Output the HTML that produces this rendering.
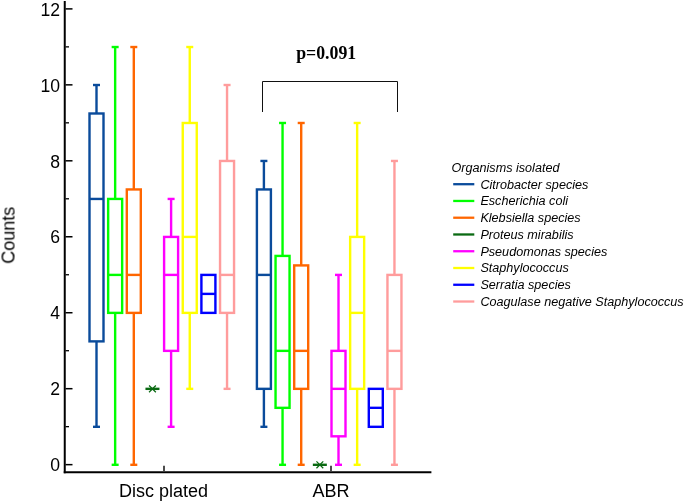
<!DOCTYPE html>
<html><head><meta charset="utf-8"><title>Chart</title>
<style>
html,body{margin:0;padding:0;background:#fff;}
body{width:685px;height:501px;overflow:hidden;font-family:"Liberation Sans",sans-serif;}
svg{display:block;}
</style></head><body>
<svg width="685" height="501" viewBox="0 0 685 501">
<rect width="685" height="501" fill="#fff"/>
<g stroke="#000" fill="none">
<line x1="64.75" y1="1" x2="64.75" y2="473.25" stroke-width="2"/>
<line x1="63.75" y1="472.2" x2="431.4" y2="472.2" stroke-width="2.1"/>
<line x1="65.5" y1="464.65000000000003" x2="72.5" y2="464.65000000000003" stroke-width="1.5"/>
<line x1="65.5" y1="426.67" x2="69" y2="426.67" stroke-width="1.3"/>
<line x1="65.5" y1="388.69000000000005" x2="72.5" y2="388.69000000000005" stroke-width="1.5"/>
<line x1="65.5" y1="350.71000000000004" x2="69" y2="350.71000000000004" stroke-width="1.3"/>
<line x1="65.5" y1="312.73" x2="72.5" y2="312.73" stroke-width="1.5"/>
<line x1="65.5" y1="274.75000000000006" x2="69" y2="274.75000000000006" stroke-width="1.3"/>
<line x1="65.5" y1="236.77" x2="72.5" y2="236.77" stroke-width="1.5"/>
<line x1="65.5" y1="198.79000000000005" x2="69" y2="198.79000000000005" stroke-width="1.3"/>
<line x1="65.5" y1="160.81000000000003" x2="72.5" y2="160.81000000000003" stroke-width="1.5"/>
<line x1="65.5" y1="122.83000000000001" x2="69" y2="122.83000000000001" stroke-width="1.3"/>
<line x1="65.5" y1="84.85000000000005" x2="72.5" y2="84.85000000000005" stroke-width="1.5"/>
<line x1="65.5" y1="46.87000000000004" x2="69" y2="46.87000000000004" stroke-width="1.3"/>
<line x1="65.5" y1="8.89000000000002" x2="72.5" y2="8.89000000000002" stroke-width="1.5"/>
<line x1="164" y1="465.7" x2="164" y2="471" stroke-width="1.4"/>
<line x1="331" y1="465.7" x2="331" y2="471" stroke-width="1.4"/>
</g>
<g font-family="Liberation Sans, sans-serif" font-size="17.6" fill="#000" text-anchor="end" style="filter:grayscale(1)">
<text x="60" y="471.35">0</text>
<text x="60" y="395.39">2</text>
<text x="60" y="319.43">4</text>
<text x="60" y="243.47">6</text>
<text x="60" y="167.51">8</text>
<text x="60" y="91.55">10</text>
<text x="60" y="16.19">12</text>
</g>
<g font-family="Liberation Sans, sans-serif" font-size="18" fill="#000" text-anchor="middle" style="filter:grayscale(1)">
<text x="163.6" y="496.8">Disc plated</text>
<text x="331" y="496.8">ABR</text>
<text transform="translate(14.5,235.3) rotate(-90)" x="0" y="0">Counts</text>
</g>
<g stroke="#0a4b9b" stroke-width="2.4" fill="none"><line x1="96.50" y1="85.00" x2="96.50" y2="113.49"/><line x1="93.00" y1="85.00" x2="100.00" y2="85.00"/><line x1="96.50" y1="426.82" x2="96.50" y2="341.37"/><line x1="93.00" y1="426.82" x2="100.00" y2="426.82"/><rect x="89.50" y="113.49" width="14.00" height="227.88"/><line x1="89.50" y1="198.94" x2="103.50" y2="198.94"/></g>
<g stroke="#00ff00" stroke-width="2.4" fill="none"><line x1="115.15" y1="47.02" x2="115.15" y2="198.94"/><line x1="111.65" y1="47.02" x2="118.65" y2="47.02"/><line x1="115.15" y1="464.80" x2="115.15" y2="312.88"/><line x1="111.65" y1="464.80" x2="118.65" y2="464.80"/><rect x="108.15" y="198.94" width="14.00" height="113.94"/><line x1="108.15" y1="274.90" x2="122.15" y2="274.90"/></g>
<g stroke="#ff6600" stroke-width="2.4" fill="none"><line x1="133.80" y1="47.02" x2="133.80" y2="189.45"/><line x1="130.30" y1="47.02" x2="137.30" y2="47.02"/><line x1="133.80" y1="464.80" x2="133.80" y2="312.88"/><line x1="130.30" y1="464.80" x2="137.30" y2="464.80"/><rect x="126.80" y="189.45" width="14.00" height="123.43"/><line x1="126.80" y1="274.90" x2="140.80" y2="274.90"/></g>
<line x1="145.45" y1="388.84" x2="159.45" y2="388.84" stroke="#0a6a12" stroke-width="2.4"/>
<path d="M149.05 385.44L155.85 392.24M149.05 392.24L155.85 385.44" stroke="#0a6a12" stroke-width="1.25" fill="none"/>
<g stroke="#ff00ff" stroke-width="2.4" fill="none"><line x1="171.10" y1="198.94" x2="171.10" y2="236.92"/><line x1="167.60" y1="198.94" x2="174.60" y2="198.94"/><line x1="171.10" y1="426.82" x2="171.10" y2="350.86"/><line x1="167.60" y1="426.82" x2="174.60" y2="426.82"/><rect x="164.10" y="236.92" width="14.00" height="113.94"/><line x1="164.10" y1="274.90" x2="178.10" y2="274.90"/></g>
<g stroke="#ffff00" stroke-width="2.4" fill="none"><line x1="189.75" y1="47.02" x2="189.75" y2="122.98"/><line x1="186.25" y1="47.02" x2="193.25" y2="47.02"/><line x1="189.75" y1="388.84" x2="189.75" y2="312.88"/><line x1="186.25" y1="388.84" x2="193.25" y2="388.84"/><rect x="182.75" y="122.98" width="14.00" height="189.90"/><line x1="182.75" y1="236.92" x2="196.75" y2="236.92"/></g>
<g stroke="#0000ff" stroke-width="2.4" fill="none"><rect x="201.40" y="274.90" width="14.00" height="37.98"/><line x1="201.40" y1="293.89" x2="215.40" y2="293.89"/></g>
<g stroke="#ff9c9c" stroke-width="2.4" fill="none"><line x1="227.05" y1="85.00" x2="227.05" y2="160.96"/><line x1="223.55" y1="85.00" x2="230.55" y2="85.00"/><line x1="227.05" y1="388.84" x2="227.05" y2="312.88"/><line x1="223.55" y1="388.84" x2="230.55" y2="388.84"/><rect x="220.05" y="160.96" width="14.00" height="151.92"/><line x1="220.05" y1="274.90" x2="234.05" y2="274.90"/></g>
<g stroke="#0a4b9b" stroke-width="2.4" fill="none"><line x1="263.90" y1="160.96" x2="263.90" y2="189.45"/><line x1="260.40" y1="160.96" x2="267.40" y2="160.96"/><line x1="263.90" y1="426.82" x2="263.90" y2="388.84"/><line x1="260.40" y1="426.82" x2="267.40" y2="426.82"/><rect x="256.90" y="189.45" width="14.00" height="199.39"/><line x1="256.90" y1="274.90" x2="270.90" y2="274.90"/></g>
<g stroke="#00ff00" stroke-width="2.4" fill="none"><line x1="282.55" y1="122.98" x2="282.55" y2="255.91"/><line x1="279.05" y1="122.98" x2="286.05" y2="122.98"/><line x1="282.55" y1="464.80" x2="282.55" y2="407.83"/><line x1="279.05" y1="464.80" x2="286.05" y2="464.80"/><rect x="275.55" y="255.91" width="14.00" height="151.92"/><line x1="275.55" y1="350.86" x2="289.55" y2="350.86"/></g>
<g stroke="#ff6600" stroke-width="2.4" fill="none"><line x1="301.20" y1="122.98" x2="301.20" y2="265.41"/><line x1="297.70" y1="122.98" x2="304.70" y2="122.98"/><line x1="301.20" y1="464.80" x2="301.20" y2="388.84"/><line x1="297.70" y1="464.80" x2="304.70" y2="464.80"/><rect x="294.20" y="265.41" width="14.00" height="123.44"/><line x1="294.20" y1="350.86" x2="308.20" y2="350.86"/></g>
<line x1="312.85" y1="464.80" x2="326.85" y2="464.80" stroke="#0a6a12" stroke-width="2.4"/>
<path d="M316.45 461.40L323.25 468.20M316.45 468.20L323.25 461.40" stroke="#0a6a12" stroke-width="1.25" fill="none"/>
<g stroke="#ff00ff" stroke-width="2.4" fill="none"><line x1="338.50" y1="274.90" x2="338.50" y2="350.86"/><line x1="335.00" y1="274.90" x2="342.00" y2="274.90"/><line x1="338.50" y1="464.80" x2="338.50" y2="436.31"/><line x1="335.00" y1="464.80" x2="342.00" y2="464.80"/><rect x="331.50" y="350.86" width="14.00" height="85.45"/><line x1="331.50" y1="388.84" x2="345.50" y2="388.84"/></g>
<g stroke="#ffff00" stroke-width="2.4" fill="none"><line x1="357.15" y1="122.98" x2="357.15" y2="236.92"/><line x1="353.65" y1="122.98" x2="360.65" y2="122.98"/><line x1="357.15" y1="464.80" x2="357.15" y2="388.84"/><line x1="353.65" y1="464.80" x2="360.65" y2="464.80"/><rect x="350.15" y="236.92" width="14.00" height="151.92"/><line x1="350.15" y1="312.88" x2="364.15" y2="312.88"/></g>
<g stroke="#0000ff" stroke-width="2.4" fill="none"><rect x="368.80" y="388.84" width="14.00" height="37.98"/><line x1="368.80" y1="407.83" x2="382.80" y2="407.83"/></g>
<g stroke="#ff9c9c" stroke-width="2.4" fill="none"><line x1="394.45" y1="160.96" x2="394.45" y2="274.90"/><line x1="390.95" y1="160.96" x2="397.95" y2="160.96"/><line x1="394.45" y1="464.80" x2="394.45" y2="388.84"/><line x1="390.95" y1="464.80" x2="397.95" y2="464.80"/><rect x="387.45" y="274.90" width="14.00" height="113.94"/><line x1="387.45" y1="350.86" x2="401.45" y2="350.86"/></g>
<path d="M262.5 112V81.5H397.5V112" stroke="#111" stroke-width="1" fill="none"/>
<text x="296.2" y="59.3" font-family="Liberation Serif, serif" font-weight="bold" font-size="17.8" style="filter:grayscale(1)" fill="#000">p=0.091</text>
<line x1="453.2" y1="184.20" x2="474.3" y2="184.20" stroke="#0a4b9b" stroke-width="2.3"/>
<line x1="453.2" y1="200.96" x2="474.3" y2="200.96" stroke="#00ff00" stroke-width="2.3"/>
<line x1="453.2" y1="217.72" x2="474.3" y2="217.72" stroke="#ff6600" stroke-width="2.3"/>
<line x1="453.2" y1="234.48" x2="474.3" y2="234.48" stroke="#0a6a12" stroke-width="2.3"/>
<line x1="453.2" y1="251.24" x2="474.3" y2="251.24" stroke="#ff00ff" stroke-width="2.3"/>
<line x1="453.2" y1="268.00" x2="474.3" y2="268.00" stroke="#ffff00" stroke-width="2.3"/>
<line x1="453.2" y1="284.76" x2="474.3" y2="284.76" stroke="#0000ff" stroke-width="2.3"/>
<line x1="453.2" y1="301.52" x2="474.3" y2="301.52" stroke="#ff9c9c" stroke-width="2.3"/>
<g font-family="Liberation Sans, sans-serif" font-style="italic" font-size="12.62" fill="#000" style="filter:grayscale(1)">
<text x="451.5" y="171.7">Organisms isolated</text>
<text x="480.4" y="188.60">Citrobacter species</text>
<text x="480.4" y="205.36">Escherichia coli</text>
<text x="480.4" y="222.12">Klebsiella species</text>
<text x="480.4" y="238.88">Proteus mirabilis</text>
<text x="480.4" y="255.64">Pseudomonas species</text>
<text x="480.4" y="272.40">Staphylococcus</text>
<text x="480.4" y="289.16">Serratia species</text>
<text x="480.4" y="305.92">Coagulase negative Staphylococcus</text>
</g>
</svg>
</body></html>
